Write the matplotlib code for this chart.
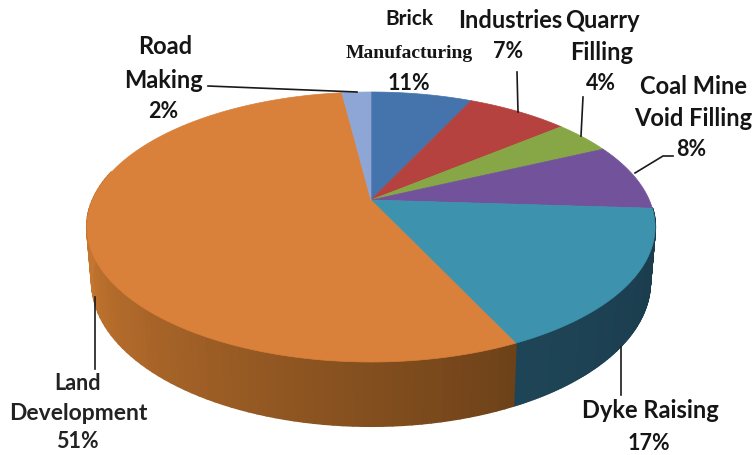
import numpy as np
import matplotlib
matplotlib.use('Agg')
import matplotlib.pyplot as plt
from matplotlib.collections import PolyCollection
from matplotlib.colors import to_rgb

# slice sizes as drawn in the picture (clockwise from 12 o'clock)
categorias = ['Brick Manufacturing', 'Industries', 'Quarry Filling', 'Coal Mine Void Filling',
              'Dyke Raising', 'Land Development', 'Road Making']
tamanos = [7, 7, 4, 8, 17, 55, 2]
# the printed labels do not agree with the drawn sizes for Brick and Land
etiquetas_pct = ['11%', '7%', '4%', '8%', '17%', '51%', '2%']

colores = ['#4573AB', '#B5423F', '#87A746', '#72529A', '#3D92AE', '#D9803A', '#8EA6D6']
# side colour at the start and end of each slice, only the front ones show
lado_ini = {4: '#1A3A4B', 5: '#6E4219'}
lado_fin = {4: '#1E4557', 5: '#C4752F'}


def rim(theta):
    # circle -> perspective ellipse, the pie centre lands above the ellipse centre
    x, y = np.sin(theta), np.cos(theta)
    d = 1 + 0.2 * y
    return 371 + 278.3 * x / d, 200 - 129.6 * y / d


def base(theta):
    X, Y = rim(theta)
    return 371 + (X - 371) * 279 / 284, 282 + (Y - 227) * 144 / 135


fig = plt.figure(figsize=(7.55, 4.55), dpi=100)
ax = fig.add_axes([0, 0, 1, 1])
ax.set_xlim(0, 755)
ax.set_ylim(455, 0)
ax.axis('off')

limites = np.radians(np.cumsum([0] + tamanos) * 3.6)

# ------------------ side ------------------
for i in lado_ini:
    th = np.linspace(limites[i], limites[i + 1], 120)
    polys = []
    cols = []
    c0 = np.array(to_rgb(lado_ini[i]))
    c1 = np.array(to_rgb(lado_fin[i]))
    for a, b in zip(th[:-1], th[1:]):
        if min(a, b) > np.radians(282) or max(a, b) < np.radians(85):
            continue
        xa, ya = rim(a)
        xb, yb = rim(b)
        xc, yc = base(b)
        xd, yd = base(a)
        polys.append([(xa, ya), (xb, yb), (xc, yc), (xd, yd)])
        t = (a - th[0]) / (th[-1] - th[0])
        # orange gets to its lightest well before the left edge
        t = min(t / 0.5, 1) if i == 5 else t
        cols.append(c0 + (c1 - c0) * t)
    ax.add_collection(PolyCollection(polys, facecolors=cols, edgecolors=cols, linewidths=1.5, zorder=1))

# ------------------ top ------------------
for i, color in enumerate(colores):
    th = np.linspace(limites[i], limites[i + 1], 150)
    xs, ys = rim(th)
    ax.fill(np.r_[371, xs], np.r_[200, ys], facecolor=color, edgecolor=color, linewidth=0.5, zorder=2)

# ------------------ leaders ------------------
lineas = [
    ([208, 357], [86, 92]),
    ([95, 95], [297, 369]),
    ([621, 621], [347, 395]),
    ([517, 518], [72, 112]),
    ([583, 581], [97, 136]),
    ([635, 663, 673], [173, 156, 156]),
]
for xs, ys in lineas:
    ax.plot(xs, ys, color='#1a1a1a', linewidth=1.2, zorder=3)


# ------------------ labels ------------------
def rotulo(x, y, s, size=17, family='Lato', color='#151515'):
    ax.text(x, y, s, ha='center', va='center', fontsize=size, family=family,
            fontweight='bold', color=color, zorder=4)


rotulo(409, 19, 'Brick', size=15)
rotulo(409, 54, 'Manufacturing', size=14, family='Liberation Serif')
rotulo(409, 83, etiquetas_pct[0], size=15.5)
rotulo(510, 20, 'Industries')
rotulo(508, 52, etiquetas_pct[1], size=15.5)
rotulo(602, 20, 'Quarry')
rotulo(602, 53, 'Filling')
rotulo(601, 83, etiquetas_pct[2], size=15.5)
rotulo(693, 86, 'Coal Mine')
rotulo(693, 119, 'Void Filling')
rotulo(691, 150, etiquetas_pct[3], size=15.5)
rotulo(165, 47, 'Road')
rotulo(164, 80, 'Making')
rotulo(163, 111, etiquetas_pct[6], size=15.5)
rotulo(78, 383, 'Land', size=15.5, color='#222222')
rotulo(78, 413, 'Development', size=16.5, color='#222222')
rotulo(77, 442, etiquetas_pct[5], size=15.5, color='#222222')
rotulo(650, 411, 'Dyke Raising')
rotulo(649, 443, etiquetas_pct[4], size=15.5)

fig.savefig('out.png', dpi=100, facecolor='white')
